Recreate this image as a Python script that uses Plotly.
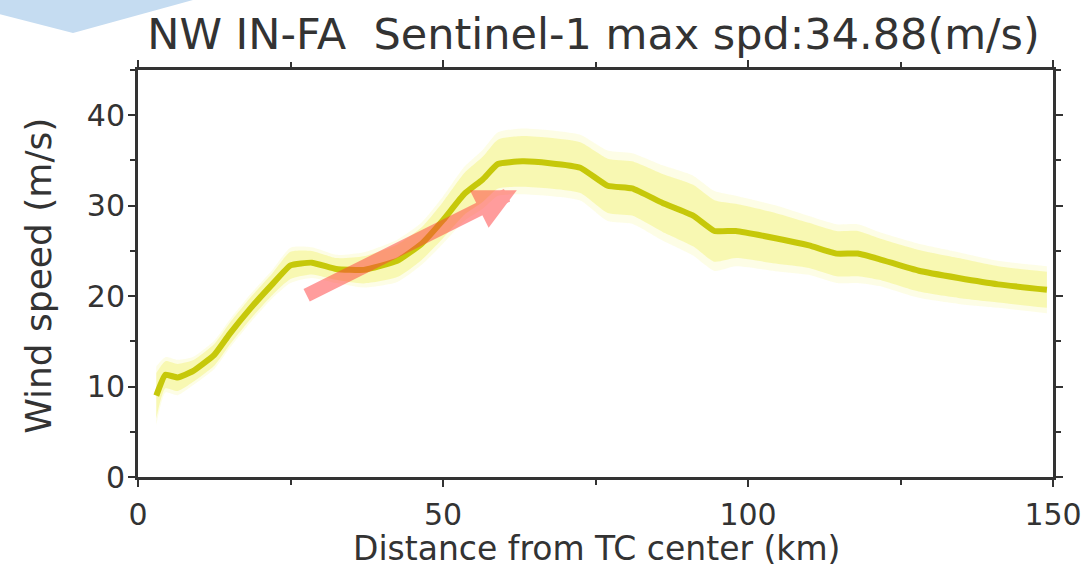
import plotly.graph_objects as go

# Data
distance_km = [3, 4.5, 6.5, 9, 12.5, 15, 18.5, 22, 25, 28.5, 32.5, 37, 42.5, 46.5, 50, 53.5,
               56.5, 59, 63, 67.5, 72.5, 77, 81, 86, 91, 94.5, 98, 104.5, 110, 114.5, 118,
               121.5, 128, 134.5, 141, 149]
wind_speed = [9.0, 11.3, 11.0, 11.7, 13.5, 15.8, 18.7, 21.3, 23.4, 23.7, 23.0, 22.9, 23.9,
              25.8, 28.4, 31.3, 32.9, 34.6, 34.9, 34.7, 34.2, 32.2, 31.9, 30.3, 28.9, 27.2,
              27.2, 26.4, 25.6, 24.7, 24.7, 24.1, 22.8, 22.0, 21.3, 20.7]
wind_std = [2.5, 1.5, 1.5, 1.2, 1.2, 1.2, 1.2, 1.2, 1.5, 1.3, 1.2, 1.5, 1.8, 1.8, 2.0, 2.3,
            2.5, 2.7, 2.8, 2.8, 2.8, 3.0, 3.0, 3.2, 3.4, 3.4, 3.0, 2.8, 2.5, 2.5, 2.5, 2.3,
            2.3, 2.2, 2.0, 2.0]

x_ticks = [0, 50, 100, 150]
y_ticks = [0, 10, 20, 30, 40]
title_text = "NW IN-FA  Sentinel-1 max spd:34.88(m/s)"
x_title = "Distance from TC center (km)"
y_title = "Wind speed (m/s)"

# arrow annotation (start and head in data units)
arrow_start = (27.4, 20.0)
arrow_end = (62.1, 31.7)

FONT = "DejaVu Sans"
TXT = "#333333"

fig = go.Figure()

# blurred band: outer faint then inner
for scale, alpha in [(1.3, 0.13), (1.0, 0.3)]:
    upper = [v + s * scale for v, s in zip(wind_speed, wind_std)]
    lower = [v - s * scale for v, s in zip(wind_speed, wind_std)]
    fig.add_trace(go.Scatter(x=distance_km, y=upper, mode="lines",
                             line=dict(width=0, shape="spline", smoothing=0.6),
                             hoverinfo="skip", showlegend=False))
    fig.add_trace(go.Scatter(x=distance_km, y=lower, mode="lines",
                             line=dict(width=0, shape="spline", smoothing=0.6),
                             fill="tonexty", fillcolor=f"rgba(240,240,60,{alpha})",
                             hoverinfo="skip", showlegend=False))

fig.add_trace(go.Scatter(x=distance_km, y=wind_speed, mode="lines",
                         line=dict(color="#c6c80a", width=6, shape="spline", smoothing=0.4),
                         showlegend=False))

fig.add_annotation(x=arrow_end[0], y=arrow_end[1], ax=arrow_start[0], ay=arrow_start[1],
                   xref="x", yref="y", axref="x", ayref="y", text="", showarrow=True,
                   arrowhead=2, arrowsize=0.6, arrowwidth=14, arrowcolor="#ff3c3c",
                   opacity=0.5, standoff=0, startstandoff=0)

# axis titles as annotations for exact placement
fig.add_annotation(text=x_title, xref="paper", yref="paper", x=0.502, y=-0.1745,
                   showarrow=False, xanchor="center", yanchor="middle",
                   font=dict(family=FONT, size=33, color=TXT))
fig.add_annotation(text=y_title, xref="paper", yref="paper", x=-0.109, y=0.495,
                   showarrow=False, xanchor="center", yanchor="middle", textangle=-90,
                   font=dict(family=FONT, size=36, color=TXT))

# decorative light-blue chevron at top-left of the slide
fig.add_shape(type="path", xref="paper", yref="paper",
              path="M -0.16 1.25 L -0.16 1.1425 L -0.0710 1.091 L 0.0601 1.172 L 0.0601 1.25 Z",
              fillcolor="#c5dcf1", line=dict(width=0), layer="above")

axis_common = dict(showline=True, linecolor="#333333", linewidth=3, mirror="ticks",
                   ticks="outside", ticklen=7, tickwidth=2, tickcolor="#333333",
                   showgrid=False, zeroline=False, automargin=False,
                   tickfont=dict(family=FONT, size=30, color=TXT))

fig.update_xaxes(range=[0, 150], tickvals=x_ticks, ticklabelstandoff=2,
                 minor=dict(dtick=25, ticks="outside", ticklen=5, tickwidth=2,
                            tickcolor="#333333"),
                 **axis_common)
fig.update_yaxes(range=[0, 45], tickvals=y_ticks, ticklabelstandoff=-3,
                 minor=dict(dtick=5, ticks="outside", ticklen=5, tickwidth=2,
                            tickcolor="#333333"),
                 **axis_common)

fig.update_layout(
    width=1089, height=569,
    margin=dict(l=138, r=36, t=70, b=92),
    paper_bgcolor="white", plot_bgcolor="white",
    title=dict(text=title_text, x=0.545, xanchor="center", y=0.940, yanchor="middle",
               font=dict(family=FONT, size=43, color=TXT)),
)

fig.write_html("out.html", config={"displayModeBar": False},
               post_script="document.body.style.margin='0';document.body.style.overflow='hidden';")
